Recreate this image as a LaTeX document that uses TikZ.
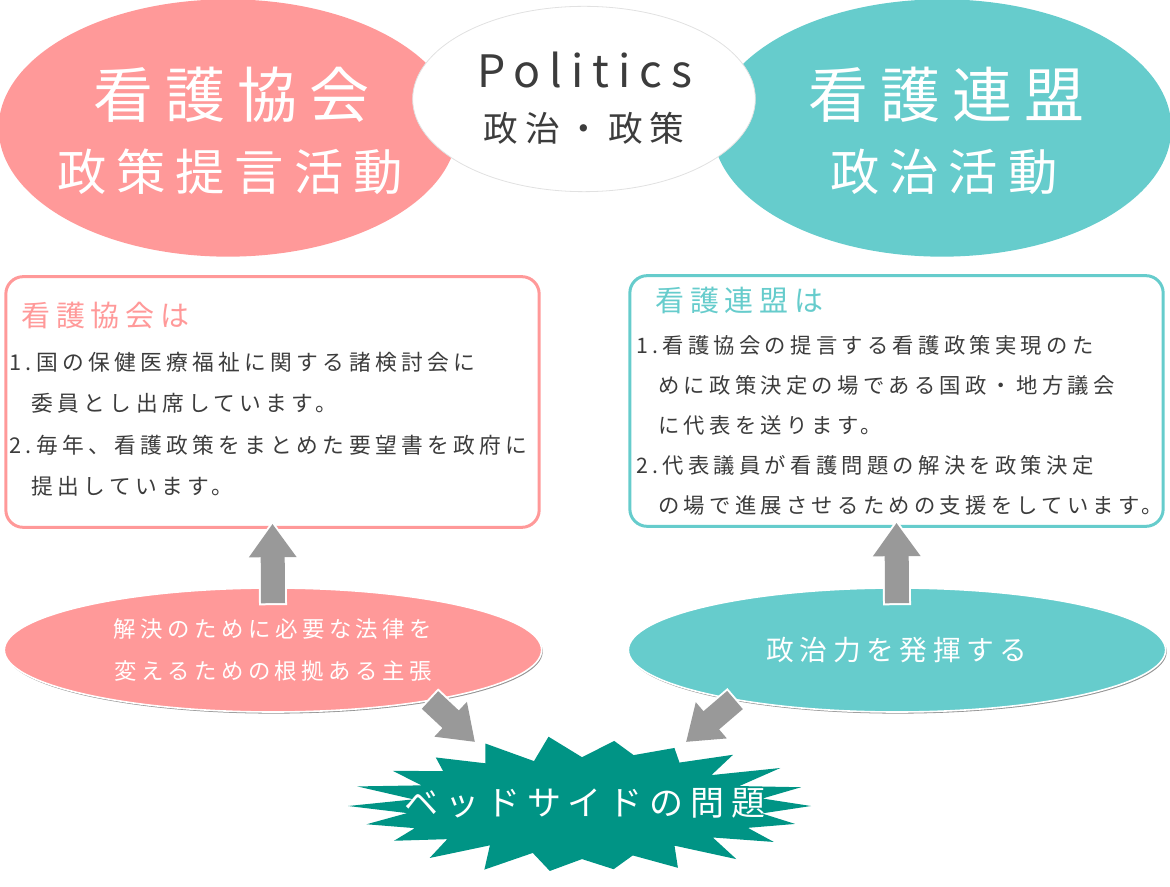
\documentclass[tikz,border=0pt]{standalone}
\usepackage{fontspec}
\setmainfont{Noto Sans CJK JP}[LetterSpace=20]
\usepackage{xcolor}
\usetikzlibrary{arrows.meta,shapes.geometric,shadows}

\definecolor{kyokaipink}{RGB}{255,153,153}
\definecolor{renmeiteal}{RGB}{102,204,204}
\definecolor{bedteal}{RGB}{0,148,133}
\definecolor{arrowgray}{RGB}{153,153,153}
\definecolor{bodygray}{RGB}{60,60,60}

\tikzset{
  topblob/.style={ellipse, inner sep=0pt, minimum width=344pt, minimum height=193pt},
  bigtext/.style={inner sep=0pt, text=white},
  infobox/.style={rectangle, rounded corners=13pt, line width=2.25pt, fill=white, inner sep=0pt,
    minimum width=400pt, minimum height=188pt},
  titletext/.style={anchor=west, inner sep=0pt, font=\fontsize{21.75pt}{26pt}\selectfont},
  bodytext/.style={anchor=north west, align=left, inner sep=0pt, text=bodygray},
  bubble/.style={ellipse, draw=white, line width=1.2pt, inner sep=0pt, text=white, align=center,
    minimum width=403pt, minimum height=93pt,
    drop shadow={shadow xshift=0.8pt, shadow yshift=-1.2pt, fill=black!70, opacity=0.6}},
  blockedge/.style={draw=white, line width=21pt, shorten >=-2.7pt, shorten <=-1.5pt,
    -{Triangle[width=38.5pt,length=29pt]}},
  blockline/.style={draw=arrowgray, line width=18pt, -{Triangle[width=34pt,length=25pt]}},
}

\begin{document}
\begin{tikzpicture}[x=0.75pt,y=0.75pt,yscale=-1,xscale=1]
\useasboundingbox (0,0) rectangle (1170,887);

%Ellipses
\node[topblob, fill=kyokaipink] (kyokai) at (228,128) {};
\node[topblob, fill=renmeiteal] (renmei) at (942,128) {};
\node[ellipse, inner sep=0pt, minimum width=257pt, minimum height=139pt, fill=white,
  draw={rgb,255:red,225;green,225;blue,225}, line width=0.6pt] (politics) at (584,99) {};

% Text Node
\node[bigtext, font=\fontsize{45pt}{52pt}\selectfont] (kyokainame) at (231,95) {看護協会};
\node[bigtext, font=\fontsize{37pt}{44pt}\selectfont] (kyokaiwork) at (230,172) {政策提言活動};
\node[bigtext, font=\fontsize{45pt}{52pt}\selectfont] (renmeiname) at (946,95) {看護連盟};
\node[bigtext, font=\fontsize{37pt}{44pt}\selectfont] (renmeiwork) at (944,172) {政治活動};
\node[inner sep=0pt, text=bodygray, font=\fontsize{33.5pt}{40pt}\selectfont] (politicsen) at (585,70) {Politics};
\node[inner sep=0pt, text=bodygray, font=\fontsize{26pt}{30pt}\selectfont] (politicsjp) at (584,128) {政治・政策};

%Boxes
\node[infobox, draw=kyokaipink] (kyokaibox) at (272.5,402) {};
\node[infobox, draw=renmeiteal] (renmeibox) at (896.5,401) {};

% Text Node
\node[titletext, text=kyokaipink] (kyokaititle) at (21,316) {看護協会は};
\node[bodytext, font=\fontsize{16.3pt}{31pt}\selectfont] (kyokaibody) at (9,352)
  {1.国の保健医療福祉に関する諸検討会に\\\phantom{1.}委員とし出席しています。\\
   2.毎年、看護政策をまとめた要望書を政府に\\\phantom{1.}提出しています。};
\node[titletext, text=renmeiteal] (renmeititle) at (655,300) {看護連盟は};
\node[bodytext, font=\fontsize{16pt}{30pt}\selectfont] (renmeibody) at (636,335)
  {1.看護協会の提言する看護政策実現のた\\\phantom{1.}めに政策決定の場である国政・地方議会\\
   \phantom{1.}に代表を送ります。\\2.代表議員が看護問題の解決を政策決定\\
   \phantom{1.}の場で進展させるための支援をしています。};

%Bubbles
\node[bubble, fill=kyokaipink, font=\fontsize{16.8pt}{31.5pt}\selectfont] (kyokaiclaim) at (273,650)
  {解決のために必要な法律を\\変えるための根拠ある主張};
\node[bubble, fill=renmeiteal, font=\fontsize{20.8pt}{25pt}\selectfont] (renmeipower) at (897,650)
  {政治力を発揮する};

%Burst
\fill[bedteal] plot[samples at={0,...,43}, variable=\k]
  ({582+(229*(1+0.03*sin(\k*137))-52*mod(\k,2))*cos(\k*360/44)},
   {806+(67*(1+0.05*sin(\k*137))-17*mod(\k,2))*sin(\k*360/44)}) -- cycle;
\node[bigtext, font=\fontsize{25.5pt}{30pt}\selectfont] (bedside) at (585,803) {ベッドサイドの問題};

%Block Arrows
\draw[blockedge] ([shift={(0,16)}]kyokaiclaim.north) -- ([shift={(0,-5)}]kyokaibox.south);
\draw[blockedge] ([shift={(0,16)}]renmeipower.north) -- ([shift={(0,-5)}]renmeibox.south);
\draw[blockedge] ([shift={(157,50)}]kyokaiclaim.center) -- ([shift={(-110,-61)}]bedside.center);
\draw[blockedge] ([shift={(-162,50)}]renmeipower.center) -- ([shift={(101,-61)}]bedside.center);
\draw[blockline] ([shift={(0,16)}]kyokaiclaim.north) -- ([shift={(0,-5)}]kyokaibox.south);
\draw[blockline] ([shift={(0,16)}]renmeipower.north) -- ([shift={(0,-5)}]renmeibox.south);
\draw[blockline] ([shift={(157,50)}]kyokaiclaim.center) -- ([shift={(-110,-61)}]bedside.center);
\draw[blockline] ([shift={(-162,50)}]renmeipower.center) -- ([shift={(101,-61)}]bedside.center);

\end{tikzpicture}
\end{document}
